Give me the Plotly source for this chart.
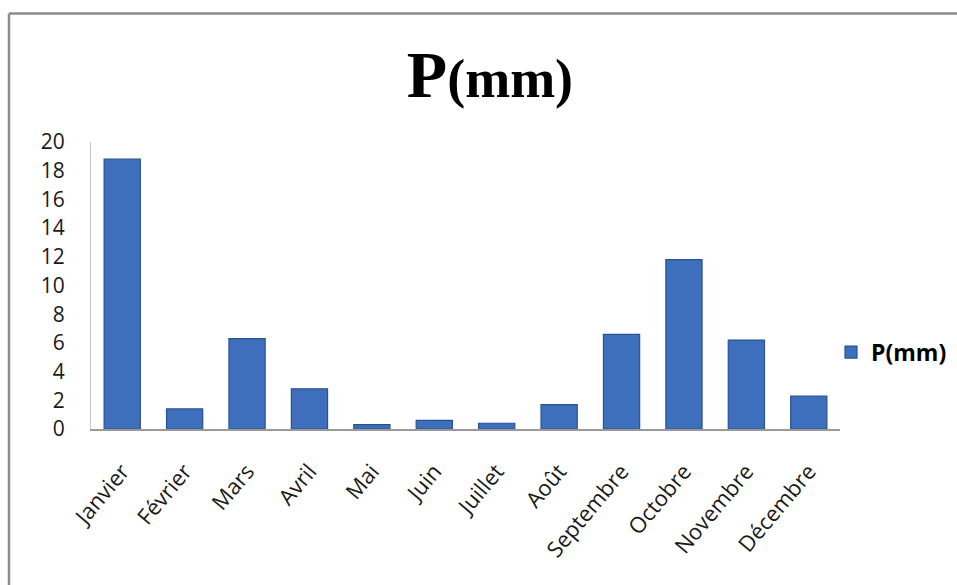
import plotly.graph_objects as go

# Monthly precipitation (mm)
months = ["Janvier", "Février", "Mars", "Avril", "Mai", "Juin", "Juillet",
          "Août", "Septembre", "Octobre", "Novembre", "Décembre"]
precip_mm = [18.8, 1.4, 6.3, 2.8, 0.3, 0.6, 0.4, 1.7, 6.6, 11.8, 6.2, 2.3]
y_ticks = [0, 2, 4, 6, 8, 10, 12, 14, 16, 18, 20]

LABEL_FONT = "'Open Sans', Lato, sans-serif"

fig = go.Figure()
fig.add_trace(go.Bar(
    x=months,
    y=precip_mm,
    name="P(mm)",
    marker=dict(color="#3D6FBD", line=dict(color="#2A5291", width=1.2)),
))

# Plot-area margins in pixels, also used to place the frame lines
L, R, T, B = 91, 117, 142, 156
W, H = 957, 585
pw, ph = W - L - R, H - T - B
fx = (9 - L) / pw
fy = (ph + T - 13.5) / ph

fig.update_layout(
    width=W, height=H,
    margin=dict(l=L, r=R, t=T, b=B, autoexpand=False),
    paper_bgcolor="white",
    plot_bgcolor="white",
    bargap=0.42,
    title=dict(
        text="<b>P<span style='font-size:54px'>(mm)</span></b>",
        font=dict(family="'Liberation Serif', 'Times New Roman', serif", size=66, color="black"),
        x=0.512, xanchor="center", xref="container",
        y=1 - 74 / H, yanchor="middle", yref="container",
    ),
    showlegend=True,
    legend=dict(
        x=0.988, xanchor="left", y=0.268, yanchor="middle",
        font=dict(family=LABEL_FONT, size=23, color="black", weight="bold"),
        bgcolor="rgba(0,0,0,0)",
        itemwidth=30,
    ),
    xaxis=dict(
        tickangle=-50,
        tickfont=dict(family=LABEL_FONT, size=22, color="#1a1a1a"),
        showline=True, linecolor="#9a9a9a", linewidth=1.5,
        ticks="", showgrid=False,
        ticklabelstandoff=19,
    ),
    yaxis=dict(
        range=[0, 20],
        tickvals=y_ticks,
        tickfont=dict(family=LABEL_FONT, size=21, color="#1a1a1a"),
        showline=True, linecolor="#c8c8c8", linewidth=1,
        ticks="", showgrid=False, zeroline=False,
        ticklabelstandoff=21,
    ),
    shapes=[
        dict(type="line", xref="paper", yref="paper",
             x0=fx, x1=fx, y0=-1, y1=fy,
             line=dict(color="#8c8c8c", width=2.5)),
        dict(type="line", xref="paper", yref="paper",
             x0=fx, x1=1.3, y0=fy, y1=fy,
             line=dict(color="#8c8c8c", width=2.5)),
    ],
)

fig.write_html("out.html")
